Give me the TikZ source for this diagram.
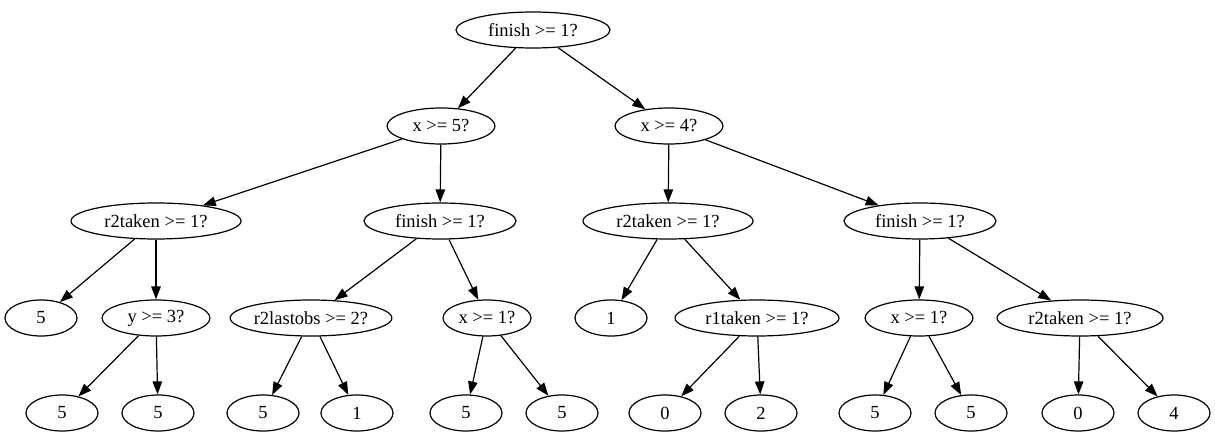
\documentclass[tikz,border=0pt]{standalone}
\usepackage{fontspec}
\setmainfont{Liberation Serif}
\usetikzlibrary{arrows.meta, shapes.geometric}
\tikzset{
  test/.style={ draw, ellipse, inner sep=0pt, line width=1.2pt, minimum height=36pt, font=\fontsize{18.5}{20}\selectfont }
}
\tikzset{
  leaf/.style={ test, minimum width=72pt }
}
\tikzset{
  branch/.style={ -{Triangle[length=13pt, width=9.5pt]}, line width=1.2pt }
}
\begin{document}
\begin{tikzpicture}[x=1pt, y=-1pt]
      \useasboundingbox (0,0) rectangle (1215,443);

      % root and first split
      \node[test, minimum width=154pt] (n0) at (533, 30) {finish >= 1?};
      \node[test, minimum width=108pt] (n1) at (441, 126) {x >= 5?};
      \node[test, minimum width=108pt] (n2) at (669, 126) {x >= 4?};

      \node[test, minimum width=170pt] (n3) at (156, 221) {r2taken >= 1?};
      \node[test, minimum width=152pt] (n4) at (440, 221) {finish >= 1?};
      \node[test, minimum width=170pt] (n5) at (668, 221) {r2taken >= 1?};
      \node[test, minimum width=152pt] (n6) at (920, 221) {finish >= 1?};

      \node[leaf] (l1) at (41, 318) {5};
      \node[test, minimum width=108pt] (n7) at (156, 318) {y >= 3?};
      \node[test, minimum width=152pt] (n8) at (311, 318) {r2lastobs >= 2?};
      \node[test, minimum width=88pt] (n9) at (487, 318) {x >= 1?};
      \node[leaf] (l2) at (611, 318) {1};
      \node[test, minimum width=164pt] (n10) at (757, 318) {r1taken >= 1?};
      \node[test, minimum width=108pt] (n11) at (919, 318) {x >= 1?};
      \node[test, minimum width=166pt] (n12) at (1080, 318) {r2taken >= 1?};

      % leaves
      \node[leaf] (l3) at (62, 413) {5};
      \node[leaf] (l4) at (158, 413) {5};
      \node[leaf] (l5) at (263, 413) {5};
      \node[leaf] (l6) at (357, 413) {1};
      \node[leaf] (l7) at (466, 413) {5};
      \node[leaf] (l8) at (562, 413) {5};
      \node[leaf] (l9) at (665, 413) {0};
      \node[leaf] (l10) at (761, 413) {2};
      \node[leaf] (l11) at (875, 413) {5};
      \node[leaf] (l12) at (971, 413) {5};
      \node[leaf] (l13) at (1078, 413) {0};
      \node[leaf] (l14) at (1174, 413) {4};

      \begin{scope}[branch]
        \draw (n0) -- (n1);
        \draw (n0) -- (n2);

        \draw (n1) -- (n3);
        \draw (n1) -- (n4);
        \draw (n2) -- (n5);
        \draw (n2) -- (n6);

        \draw (n3) -- (l1);
        \draw (n3) -- (n7);
        \draw (n4) -- (n8);
        \draw (n4) -- (n9);
        \draw (n5) -- (l2);
        \draw (n5) -- (n10);
        \draw (n6) -- (n11);
        \draw (n6) -- (n12);

        \draw (n7) -- (l3);
        \draw (n7) -- (l4);
        \draw (n8) -- (l5);
        \draw (n8) -- (l6);
        \draw (n9) -- (l7);
        \draw (n9) -- (l8);
        \draw (n10) -- (l9);
        \draw (n10) -- (l10);
        \draw (n11) -- (l11);
        \draw (n11) -- (l12);
        \draw (n12) -- (l13);
        \draw (n12) -- (l14);
      \end{scope}
    \end{tikzpicture}
\end{document}
